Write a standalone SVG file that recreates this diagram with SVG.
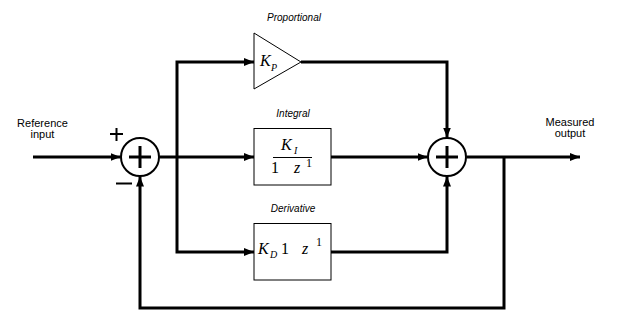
<svg xmlns="http://www.w3.org/2000/svg" width="621" height="324" viewBox="0 0 621 324">
<style>
.bg{fill:#fff}
.wire{fill:none;stroke:#000;stroke-width:3;marker-end:url(#ah)}
.sum{fill:#fff;stroke:#000;stroke-width:2}
.plus{stroke:#000;stroke-width:3}
.sign{stroke:#000;stroke-width:2}
.blk{fill:#fff;stroke:#000;stroke-width:1}
.lbl{font-family:"Liberation Sans",Arial,sans-serif;font-size:11px;fill:#000;text-anchor:middle}
.ttl{font-family:"Liberation Sans",Arial,sans-serif;font-size:10px;font-style:italic;fill:#000;text-anchor:middle}
.m{font-family:"Liberation Serif","Times New Roman",serif;font-size:16px;fill:#000}
.mi{font-style:italic}
.sub{font-family:"Liberation Serif","Times New Roman",serif;font-size:10px;font-style:italic;fill:#000}
.sup{font-family:"Liberation Serif","Times New Roman",serif;font-size:12px;fill:#000}
</style>
<defs>
<marker id="ah" markerUnits="userSpaceOnUse" markerWidth="10" markerHeight="8" refX="10" refY="4" orient="auto">
<path d="M0,0 L10,4 L0,8 z" fill="#000"/>
</marker>
</defs>
<rect class="bg" x="0" y="0" width="621" height="324"/>

<g id="connectors">
<path class="wire" d="M33,157 H120.5"/>
<path class="wire" d="M159.5,157 H254"/>
<path class="wire" d="M177,157 V62 H254"/>
<path class="wire" d="M177,157 V252 H254"/>
<path class="wire" d="M301,62 H447 V137.5"/>
<path class="wire" d="M331,157 H427.5"/>
<path class="wire" d="M331,252 H447 V176.5"/>
<path class="wire" d="M466.5,157 H580"/>
<path class="wire" d="M504,157 V308 H140 V176.5"/>
</g>

<g id="input-label">
<text class="lbl" x="42.5" y="127">Reference</text>
<text class="lbl" x="42.5" y="138">input</text>
</g>

<g id="sum1">
<circle class="sum" cx="140" cy="157" r="19"/>
<line class="plus" x1="129" y1="157" x2="151" y2="157"/>
<line class="plus" x1="140" y1="146" x2="140" y2="168"/>
<line class="sign" x1="110" y1="134" x2="123" y2="134"/>
<line class="sign" x1="116.5" y1="128" x2="116.5" y2="141"/>
<line class="sign" x1="116" y1="183.5" x2="132" y2="183.5"/>
</g>

<g id="proportional">
<text class="ttl" x="294" y="21">Proportional</text>
<polygon class="blk" points="254,33 254,89 301,62"/>
<text class="m mi" x="260" y="66">K</text>
<text class="sub" x="271" y="71">P</text>
</g>

<g id="integral">
<text class="ttl" x="293" y="117">Integral</text>
<rect class="blk" x="254" y="128.5" width="77" height="56.5"/>
<text class="m mi" x="281" y="150">K</text>
<text class="sub" x="294" y="154">I</text>
<line x1="273" y1="157.5" x2="312" y2="157.5" stroke="#000" stroke-width="1"/>
<text class="m" x="271" y="173">1</text>
<text class="m mi" x="294" y="173">z</text>
<text class="sup" x="306" y="167">1</text>
</g>

<g id="derivative">
<text class="ttl" x="293" y="212">Derivative</text>
<rect class="blk" x="254" y="223.5" width="77" height="56.5"/>
<text class="m mi" x="258" y="254">K</text>
<text class="sub" x="270" y="258">D</text>
<text class="m" x="281" y="254">1</text>
<text class="m mi" x="302" y="254">z</text>
<text class="sup" x="316" y="246">1</text>
</g>

<g id="sum2">
<circle class="sum" cx="447" cy="157" r="19"/>
<line class="plus" x1="436" y1="157" x2="458" y2="157"/>
<line class="plus" x1="447" y1="146" x2="447" y2="168"/>
</g>

<g id="output-label">
<text class="lbl" x="570" y="126">Measured</text>
<text class="lbl" x="570" y="137">output</text>
</g>
</svg>
